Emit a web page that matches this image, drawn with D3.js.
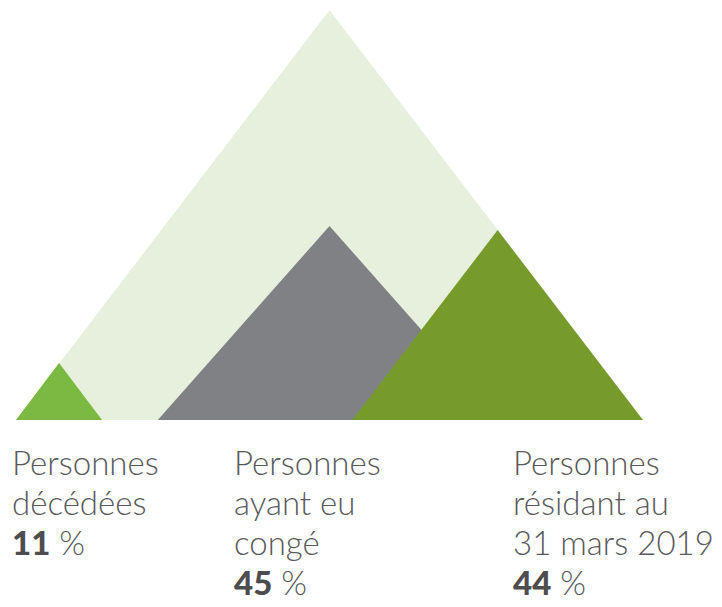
<!DOCTYPE html>
<html lang="fr">
<head>
    <meta charset="UTF-8">
    <title>Répartition des personnes</title>
    <style>
        body {
            margin: 0;
            background: #ffffff;
        }
        text {
            font-family: Lato, "Open Sans", sans-serif;
        }
    </style>
</head>
<body>
    <div id="chart"></div>

    <script src="https://d3js.org/d3.v7.min.js"></script>
    <script>
        // Data
        var categories = ["Personnes décédées", "Personnes ayant eu congé", "Personnes résidant au 31 mars 2019"];
        var labelLines = [
            ["Personnes", "décédées"],
            ["Personnes", "ayant eu", "congé"],
            ["Personnes", "résidant au", "31 mars 2019"]
        ];
        var values = [11, 45, 44];
        var total = 100;

        var width = 722, height = 607;
        var baseY = 420;
        var colors = ["#7cb943", "#808184", "#779b2b"];
        var bgColor = "#e7f0dd";

        var svg = d3.select("#chart").append("svg")
            .attr("width", width)
            .attr("height", height);

        // horizontal extent of the big "total" triangle
        var x = d3.scaleLinear().domain([0, total]).range([16, 643]);
        // peak height from value
        var h = d3.scaleLinear().domain([11, 44.5]).range([57, 192]);
        var yTotal = d3.scaleLinear().domain([0, total]).range([baseY, 10]);

        // background triangle = 100 %
        svg.append("path")
            .attr("d", d3.line()([[x(0), baseY], [x(total / 2), yTotal(total)], [x(total), baseY]]) + "Z")
            .attr("fill", bgColor);

        // each category: left aligned, centered, right aligned; width/height ratio per peak
        var anchors = ["left", "center", "right"];
        var aspect = [0.755, 0.885, 0.765];

        var peaks = values.map(function(v, i) {
            var ph = h(v);
            var hw = ph * aspect[i];
            var cx;
            if (anchors[i] === "left") cx = x(0) + hw;
            else if (anchors[i] === "right") cx = x(total) - hw;
            else cx = x(total / 2);
            return [[cx - hw, baseY], [cx, baseY - ph], [cx + hw, baseY]];
        });

        svg.selectAll(".peak")
            .data(peaks)
            .enter()
            .append("path")
            .attr("class", "peak")
            .attr("d", function(d) { return d3.line()(d) + "Z"; })
            .attr("fill", function(d, i) { return colors[i]; });

        // labels
        var labelX = [12, 234, 513];
        var lineH = 40;
        var firstBase = 475;
        var fontSize = 33;

        var groups = svg.selectAll(".label")
            .data(categories)
            .enter()
            .append("g")
            .attr("class", "label")
            .attr("transform", function(d, i) { return "translate(" + labelX[i] + "," + firstBase + ")"; });

        groups.each(function(d, i) {
            var g = d3.select(this);
            labelLines[i].forEach(function(line, j) {
                g.append("text")
                    .attr("y", j * lineH)
                    .attr("font-size", fontSize)
                    .attr("font-weight", 300)
                    .attr("fill", "#59595b")
                    .text(line);
            });
            var t = g.append("text")
                .attr("y", labelLines[i].length * lineH)
                .attr("font-size", fontSize)
                .attr("fill", "#4d4d4f");
            t.append("tspan").attr("font-weight", 900).text(values[i]);
            t.append("tspan").attr("font-weight", 300).attr("fill", "#59595b").text(" %");
        });
    </script>
</body>
</html>
